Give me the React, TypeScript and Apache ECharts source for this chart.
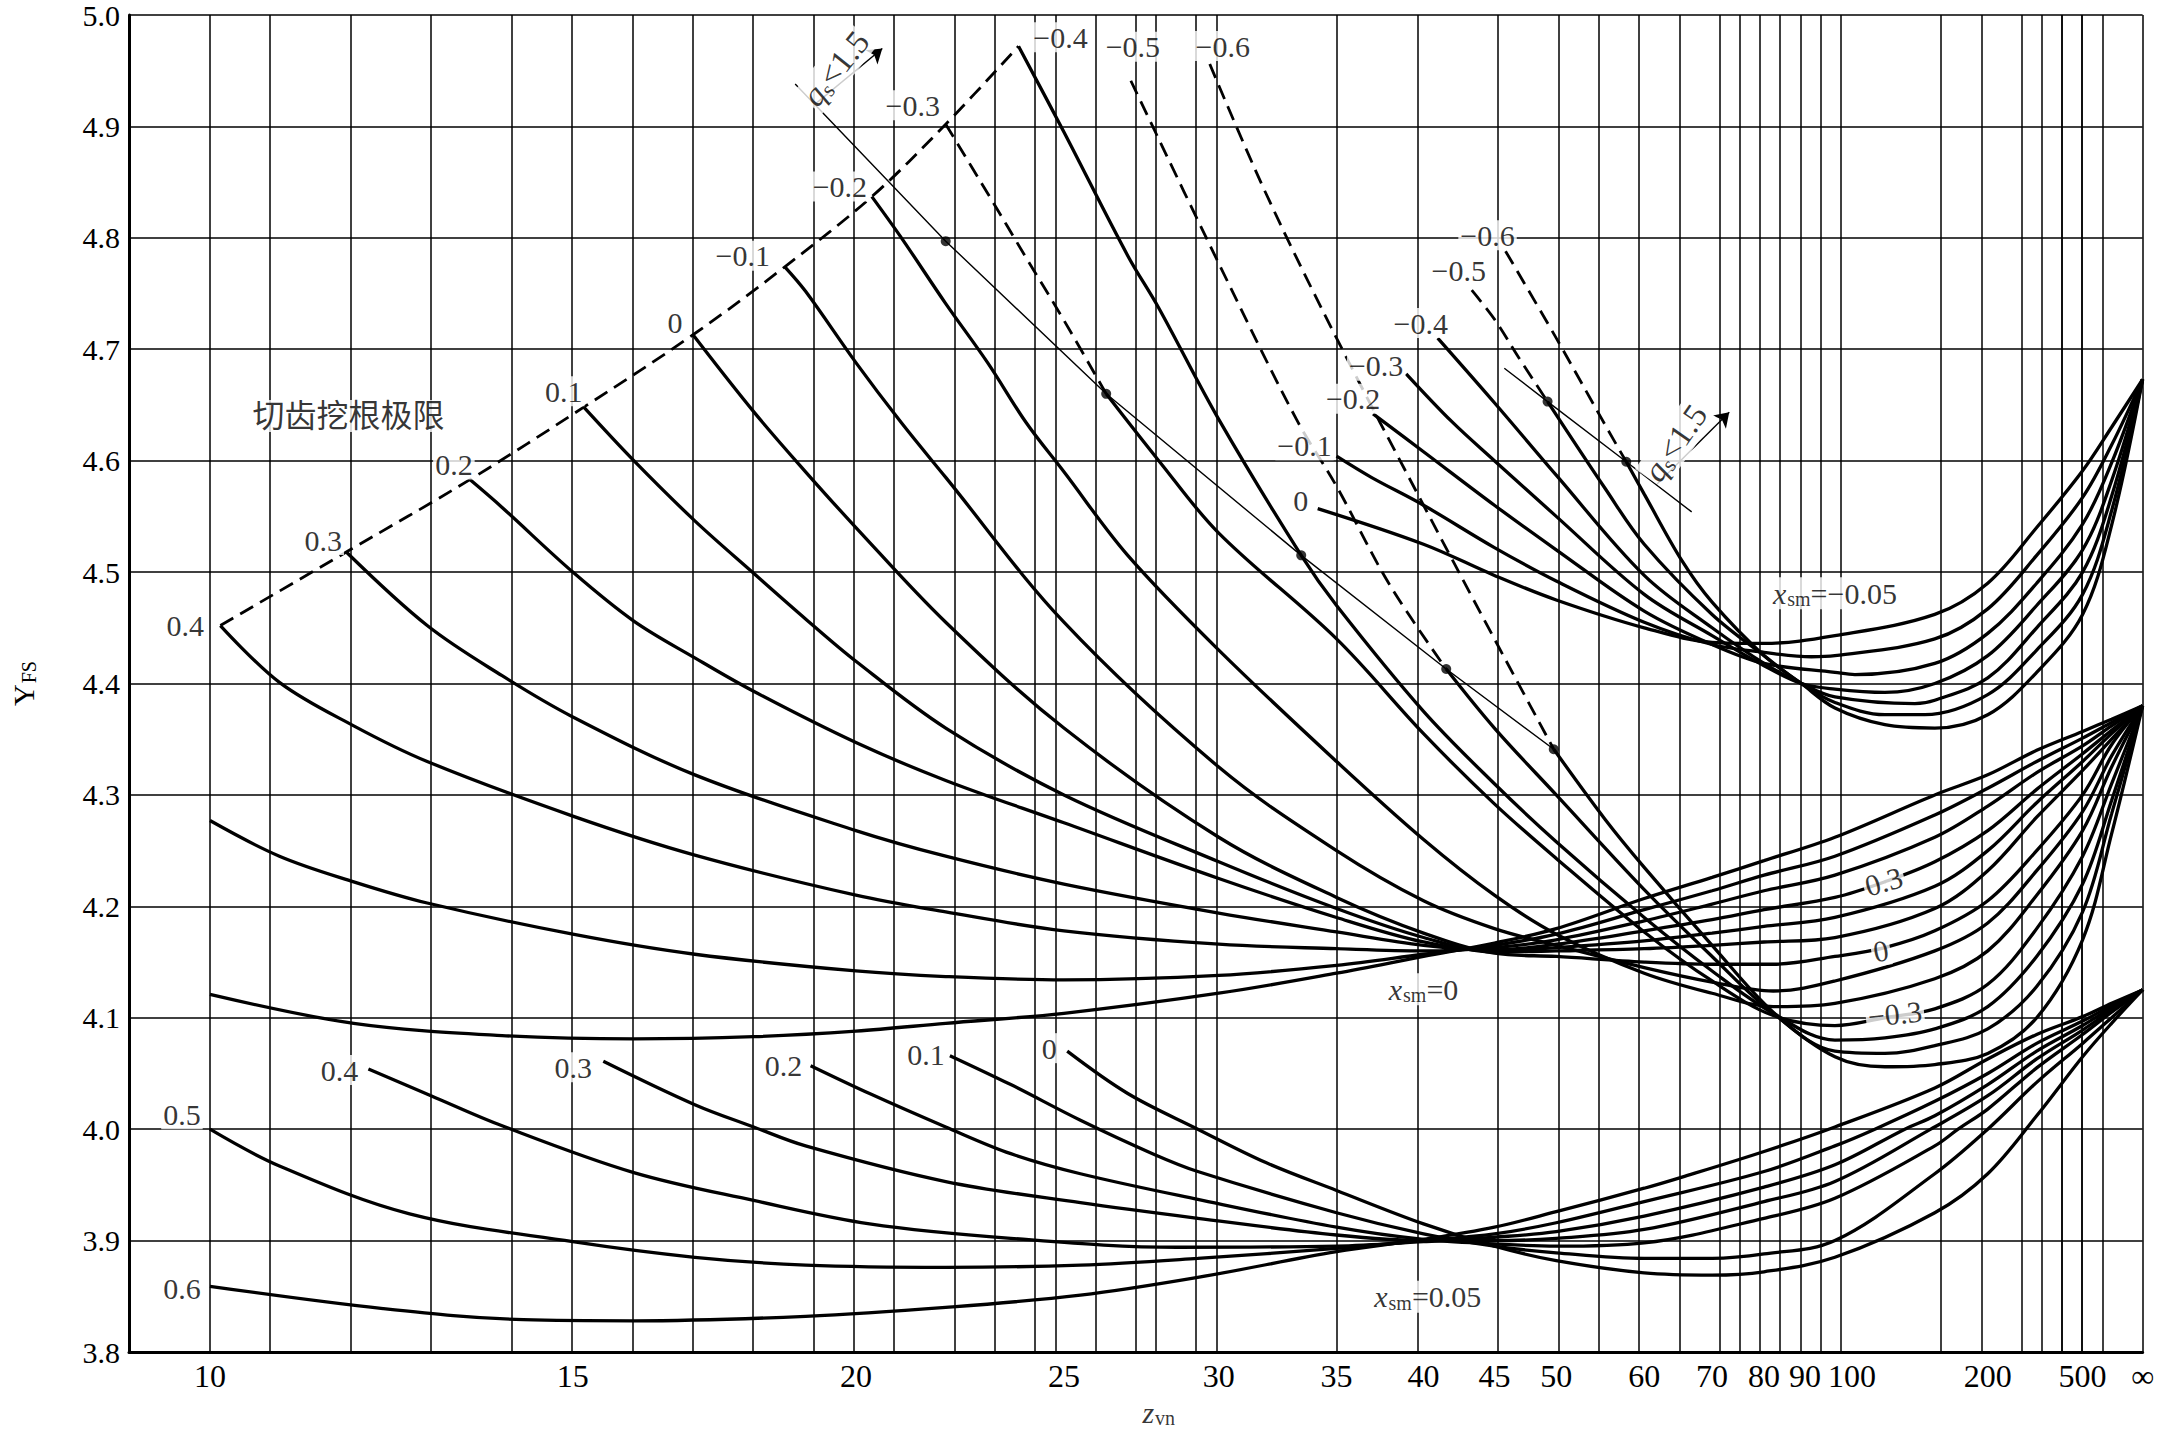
import React, { useEffect, useRef } from "react";
import * as echarts from "echarts";

const INF = Infinity;
const FONT = '"Liberation Serif", "Times New Roman", "Noto Sans CJK SC", serif';

// ---- horizontal scale of the chart (gridline values, relative position along the axis 0..1)
const scaleZ = [10, 11, 12, 13, 14, 15, 16, 17, 18, 19, 20, 21, 22, 23, 24, 25, 26, 27, 28, 29, 30, 35, 40, 45, 50, 55, 60, 65, 70, 75, 80, 85, 90, 95, 100, 150, 200, 250, 300, 350, 400, 450, 500, 1000, INF];
const scaleU = [0.0402, 0.0747, 0.1116, 0.1481, 0.1853, 0.2204, 0.2507, 0.281, 0.3102, 0.336, 0.361, 0.3836, 0.4056, 0.4264, 0.4456, 0.4643, 0.4807, 0.496, 0.5114, 0.5263, 0.5412, 0.5997, 0.6429, 0.6781, 0.7088, 0.7331, 0.7525, 0.7713, 0.7862, 0.7991, 0.812, 0.8234, 0.8323, 0.8403, 0.8472, 0.8968, 0.9231, 0.938, 0.9474, 0.9554, 0.9618, 0.9663, 0.9702, 0.9846, 1];
const tickZ = [10, 15, 20, 25, 30, 35, 40, 45, 50, 60, 70, 80, 90, 100, 200, 500, INF];
const tickText = ["10", "15", "20", "25", "30", "35", "40", "45", "50", "60", "70", "80", "90", "{r|100}", "200", "500", "∞"];

// ---- x_sm = 0 family
const mid_p06 = [[10, 4.121], [12, 4.095], [14, 4.084], [16, 4.081], [18, 4.083], [20, 4.088], [22, 4.095], [25, 4.104], [30, 4.122], [35, 4.14], [40, 4.155], [45, 4.167], [50, 4.18], [60, 4.207], [70, 4.226], [80, 4.241], [100, 4.262], [150, 4.3], [200, 4.318], [300, 4.34], [500, 4.357], [1000, 4.368], [INF, 4.38]];
const mid_p05 = [[10, 4.277], [11, 4.245], [12, 4.222], [13, 4.203], [15, 4.175], [17, 4.157], [20, 4.142], [22, 4.137], [25, 4.134], [30, 4.138], [35, 4.147], [40, 4.157], [45, 4.165], [50, 4.175], [60, 4.197], [70, 4.214], [80, 4.228], [100, 4.245], [150, 4.282], [200, 4.306], [300, 4.33], [500, 4.351], [1000, 4.365], [INF, 4.38]];
const mid_p04 = [[10.15, 4.452], [11, 4.401], [12, 4.362], [13, 4.33], [15, 4.281], [17, 4.246], [20, 4.21], [22, 4.195], [25, 4.178], [30, 4.166], [35, 4.162], [40, 4.16], [45, 4.163], [50, 4.17], [60, 4.187], [70, 4.202], [80, 4.214], [100, 4.228], [150, 4.262], [200, 4.29], [300, 4.32], [500, 4.344], [1000, 4.362], [INF, 4.38]];
const mid_p03 = [[11.9, 4.518], [13, 4.452], [14, 4.407], [15, 4.37], [17, 4.318], [20, 4.268], [22, 4.245], [25, 4.22], [30, 4.194], [35, 4.177], [40, 4.165], [45, 4.161], [50, 4.166], [60, 4.178], [70, 4.188], [80, 4.197], [100, 4.208], [125, 4.222], [150, 4.24], [200, 4.268], [300, 4.305], [500, 4.337], [1000, 4.358], [INF, 4.38]];
const mid_p02 = [[13.57, 4.583], [14, 4.558], [15, 4.5], [16, 4.456], [17, 4.423], [18, 4.393], [20, 4.347], [22, 4.313], [25, 4.275], [30, 4.225], [35, 4.19], [40, 4.168], [45, 4.16], [50, 4.163], [60, 4.169], [70, 4.176], [80, 4.182], [100, 4.19], [150, 4.218], [200, 4.25], [300, 4.293], [500, 4.33], [1000, 4.355], [INF, 4.38]];
const mid_p01 = [[15.18, 4.648], [16, 4.6], [17, 4.546], [18, 4.499], [19, 4.458], [20, 4.42], [22, 4.36], [25, 4.3], [30, 4.24], [35, 4.198], [40, 4.172], [45, 4.159], [50, 4.16], [60, 4.162], [70, 4.165], [80, 4.168], [100, 4.172], [150, 4.198], [200, 4.232], [300, 4.28], [500, 4.322], [1000, 4.35], [INF, 4.38]];
const mid_0 = [[16.97, 4.713], [18, 4.644], [19, 4.59], [20, 4.54], [22, 4.455], [25, 4.36], [30, 4.262], [35, 4.208], [40, 4.176], [45, 4.158], [50, 4.155], [60, 4.15], [70, 4.148], [82, 4.148], [100, 4.155], [125, 4.163], [150, 4.178], [200, 4.205], [300, 4.25], [500, 4.3], [1000, 4.345], [INF, 4.38]];
const mid_m01 = [[18.6, 4.774], [19, 4.752], [20, 4.688], [21, 4.634], [22, 4.585], [25, 4.455], [30, 4.325], [35, 4.25], [40, 4.205], [45, 4.18], [50, 4.165], [60, 4.145], [70, 4.132], [82, 4.124], [100, 4.133], [150, 4.16], [200, 4.185], [300, 4.232], [500, 4.285], [1000, 4.335], [INF, 4.38]];
const mid_m02 = [[20.35, 4.837], [21, 4.8], [22, 4.741], [23, 4.688], [24, 4.634], [25, 4.59], [27, 4.515], [30, 4.43], [35, 4.33], [40, 4.26], [45, 4.21], [50, 4.175], [60, 4.14], [70, 4.122], [82, 4.11], [100, 4.113], [150, 4.135], [200, 4.16], [300, 4.21], [500, 4.268], [1000, 4.325], [INF, 4.38]];
const mid_m03_dash = [[22, 4.902], [23, 4.84], [24, 4.782], [25, 4.726], [26.3, 4.66]];
const mid_m03 = [[26.3, 4.66], [28, 4.6], [30, 4.535], [35, 4.44], [40, 4.355], [45, 4.292], [50, 4.243], [60, 4.177], [70, 4.133], [82, 4.102], [100, 4.093], [125, 4.1], [150, 4.108], [200, 4.13], [300, 4.18], [500, 4.245], [1000, 4.31], [INF, 4.38]];
const mid_m04 = [[23.8, 4.972], [25, 4.895], [27, 4.784], [28, 4.737], [30, 4.637], [33.5, 4.515], [35, 4.47], [40, 4.375], [45, 4.31], [50, 4.258], [60, 4.19], [70, 4.142], [82, 4.104], [100, 4.08], [125, 4.082], [150, 4.09], [200, 4.11], [300, 4.155], [500, 4.22], [1000, 4.295], [INF, 4.38]];
const mid_m05_dash = [[27.1, 4.941], [30, 4.777], [33.3, 4.637], [35, 4.577], [38, 4.49], [41.6, 4.413]];
const mid_m05 = [[41.6, 4.413], [45, 4.36], [50, 4.3], [60, 4.215], [70, 4.155], [82, 4.104], [100, 4.07], [125, 4.068], [150, 4.075], [200, 4.09], [300, 4.128], [500, 4.195], [1000, 4.283], [INF, 4.38]];
const mid_m06_dash = [[29.7, 4.956], [32, 4.84], [35, 4.71], [40, 4.56], [45, 4.44], [49.8, 4.341]];
const mid_m06 = [[49.8, 4.341], [55, 4.278], [60, 4.235], [70, 4.165], [82, 4.105], [100, 4.065], [125, 4.056], [150, 4.058], [200, 4.068], [300, 4.1], [500, 4.17], [1000, 4.265], [INF, 4.38]];
const undercutLimit = [[10.15, 4.452], [11.9, 4.518], [13.57, 4.583], [15.18, 4.648], [16.97, 4.713], [18.6, 4.774], [20.35, 4.837], [22, 4.902], [23.8, 4.972]];
const qsLineMid = [[18.8, 4.938], [22, 4.797], [26.3, 4.66], [33.5, 4.515], [41.6, 4.413], [49.8, 4.341]];
const qsDotsMid = [[22, 4.797], [26.3, 4.66], [33.5, 4.515], [41.6, 4.413], [49.8, 4.341]];
const qsArrowMid = [[19.19, 4.92], [20.58, 4.97]];

// ---- x_sm = -0.05 family
const up_0 = [[34.2, 4.557], [40, 4.525], [45, 4.497], [50, 4.475], [60, 4.45], [70, 4.437], [80, 4.436], [100, 4.443], [150, 4.462], [200, 4.49], [300, 4.54], [500, 4.591], [1000, 4.63], [INF, 4.673]];
const up_m01 = [[35, 4.604], [37, 4.585], [40, 4.56], [45, 4.522], [50, 4.492], [60, 4.455], [70, 4.435], [80, 4.428], [92, 4.424], [100, 4.425], [150, 4.44], [200, 4.467], [300, 4.515], [500, 4.567], [1000, 4.614], [INF, 4.673]];
const up_m02 = [[37.1, 4.642], [40, 4.608], [45, 4.56], [50, 4.52], [60, 4.465], [70, 4.435], [80, 4.418], [100, 4.41], [110, 4.408], [150, 4.418], [200, 4.445], [300, 4.49], [500, 4.543], [1000, 4.598], [INF, 4.673]];
const up_m03 = [[39, 4.678], [42, 4.635], [45, 4.6], [50, 4.55], [60, 4.48], [70, 4.443], [80, 4.416], [89, 4.4], [100, 4.395], [125, 4.392], [150, 4.4], [200, 4.425], [300, 4.47], [500, 4.52], [1000, 4.582], [INF, 4.673]];
const up_m04 = [[41, 4.71], [45, 4.652], [50, 4.587], [60, 4.497], [70, 4.45], [80, 4.418], [89, 4.4], [100, 4.388], [140, 4.382], [150, 4.385], [200, 4.405], [300, 4.45], [500, 4.5], [1000, 4.568], [INF, 4.673]];
const up_m05_dash = [[43.4, 4.753], [45, 4.727], [47, 4.692], [49.3, 4.653]];
const up_m05 = [[49.3, 4.653], [55, 4.575], [60, 4.525], [70, 4.462], [80, 4.425], [89, 4.4], [100, 4.383], [125, 4.372], [145, 4.372], [200, 4.39], [300, 4.43], [500, 4.48], [1000, 4.555], [INF, 4.673]];
const up_m06_dash = [[45.9, 4.788], [50, 4.71], [55, 4.632], [57.7, 4.599]];
const up_m06 = [[57.7, 4.599], [60, 4.57], [65, 4.51], [70, 4.473], [80, 4.425], [89, 4.4], [100, 4.378], [125, 4.363], [150, 4.36], [200, 4.372], [300, 4.41], [500, 4.462], [1000, 4.542], [INF, 4.673]];
const qsLineUp = [[45.8, 4.683], [49.3, 4.653], [57.7, 4.599], [66.6, 4.554]];
const qsDotsUp = [[49.3, 4.653], [57.7, 4.599]];
const qsArrowUp = [[61.7, 4.579], [73.3, 4.6435]];

// ---- x_sm = 0.05 family
const low_p06 = [[10, 3.859], [12.4, 3.839], [14.3, 3.829], [16, 3.828], [19, 3.832], [22, 3.84], [25.5, 3.851], [29.3, 3.867], [35, 3.89], [40, 3.901], [45, 3.912], [50, 3.926], [60, 3.947], [65, 3.957], [80, 3.98], [100, 4.002], [150, 4.037], [200, 4.063], [300, 4.085], [500, 4.101], [1000, 4.113], [INF, 4.125]];
const low_p05 = [[10, 4.0], [11, 3.967], [12.76, 3.924], [15, 3.899], [17, 3.885], [19, 3.878], [22, 3.876], [25.5, 3.878], [29.3, 3.884], [35, 3.893], [40, 3.9], [45, 3.906], [50, 3.916], [60, 3.935], [80, 3.962], [100, 3.985], [120, 4.0], [150, 4.025], [200, 4.05], [300, 4.077], [500, 4.097], [1000, 4.111], [INF, 4.125]];
const low_p04 = [[12.2, 4.054], [13.05, 4.03], [14, 4.003], [16, 3.961], [18, 3.936], [20.3, 3.915], [23.6, 3.902], [28.6, 3.894], [35, 3.895], [40, 3.899], [45, 3.903], [50, 3.908], [60, 3.922], [80, 3.948], [100, 3.968], [135, 4.0], [150, 4.012], [200, 4.04], [300, 4.07], [500, 4.093], [1000, 4.109], [INF, 4.125]];
const low_p03 = [[15.5, 4.061], [17, 4.022], [18, 4.002], [19, 3.985], [22, 3.953], [25.5, 3.934], [29.3, 3.92], [35, 3.905], [40, 3.9], [45, 3.9], [50, 3.902], [60, 3.91], [80, 3.935], [100, 3.953], [148, 4.0], [200, 4.03], [300, 4.063], [500, 4.089], [1000, 4.107], [INF, 4.125]];
const low_p02 = [[19.1, 4.057], [20.3, 4.032], [22, 4.002], [23.6, 3.978], [25.5, 3.96], [29.3, 3.937], [35, 3.912], [40, 3.901], [45, 3.897], [50, 3.895], [60, 3.898], [80, 3.92], [100, 3.938], [150, 3.985], [172, 4.0], [200, 4.018], [300, 4.055], [500, 4.085], [1000, 4.105], [INF, 4.125]];
const low_p01 = [[22.1, 4.066], [23.6, 4.04], [25.5, 4.008], [27.8, 3.978], [29.3, 3.962], [35, 3.925], [40, 3.906], [45, 3.895], [50, 3.889], [60, 3.884], [70, 3.884], [80, 3.888], [100, 3.9], [150, 3.96], [200, 4.0], [300, 4.042], [500, 4.077], [1000, 4.1], [INF, 4.125]];
const low_0 = [[25.1, 4.07], [27, 4.032], [29.3, 4.0], [32, 3.97], [35, 3.945], [40, 3.915], [45, 3.895], [50, 3.882], [60, 3.871], [70, 3.869], [80, 3.872], [100, 3.885], [150, 3.925], [200, 3.96], [300, 4.012], [500, 4.065], [1000, 4.095], [INF, 4.125]];

// ---- texts and their anchors [z, Y] (curve starts or text centres)
const labelTexts = [
  "0.4", "0.3", "0.2", "0.1", "0", "−0.1", "−0.2", "−0.3", "−0.4", "−0.5", "−0.6",
  "0", "−0.1", "−0.2", "−0.3", "−0.4", "−0.5", "−0.6",
  "0.6", "0.5", "0.4", "0.3", "0.2", "0.1", "0",
  "切齿挖根极限", "{i|x}{s|sm}{n|=−0.05}", "{i|x}{s|sm}{n|=0}", "{i|x}{s|sm}{n|=0.05}",
  "0.3", "0", "−0.3",
  "{qi|q}{qs|s}{qn|<1.5}", "{qi|q}{qs|s}{qn|<1.5}", "{i|z}{s|vn}",
];
const labelAnchors = [
  [10.15, 4.452], [11.9, 4.518], [13.57, 4.583], [15.18, 4.648], [16.97, 4.713], [18.6, 4.774], [20.35, 4.837], [22, 4.902], [23.8, 4.972], [27.1, 4.941], [29.7, 4.956],
  [34.2, 4.557], [35, 4.604], [37.1, 4.642], [39, 4.678], [41, 4.71], [43.4, 4.753], [45.9, 4.788],
  [10, 3.859], [10, 4.0], [12.2, 4.054], [15.5, 4.061], [19.1, 4.057], [22.1, 4.066], [25.1, 4.07],
  [11.93, 4.64], [100, 4.481], [40, 4.1255], [40.3, 3.8495],
  [124.4, 4.2224], [123, 4.16], [130, 4.1035],
  [19.6, 4.952], [64.1, 4.616], [28, 3.8],
];
// styling of the texts: pixel offsets from the anchor and rotation
const labelOffsets = [
  [-35, 0], [-23, -12], [-16, -15], [-20, -16], [-18, -12], [-42, -11], [-32, -10], [-33, -19], [42, -9], [2, -34], [13, -18],
  [-17, -8], [-32, -11], [-20, -15], [-30, -8], [-17, -15], [-13, -20], [-18, -16],
  [-28, 2], [-28, -15], [-29, 1], [-30, 6], [-27, 0], [-24, -1], [-18, -3],
  [0, 0], [0, 0], [0, 0], [0, 0],
  [0, 0], [0, 0], [0, 0],
  [0, 0], [0, 0], [0, 60],
];
const labelRotate = [
  0, 0, 0, 0, 0, 0, 0, 0, 0, 0, 0,
  0, 0, 0, 0, 0, 0, 0,
  0, 0, 0, 0, 0, 0, 0,
  0, 0, 0, 0,
  16, 10, 6,
  51, 55, 0,
];

function zu(z: number): number {
  if (z === INF) return 1;
  if (z <= scaleZ[0]) {
    const s = (scaleU[1] - scaleU[0]) / (scaleZ[1] - scaleZ[0]);
    return scaleU[0] + (z - scaleZ[0]) * s;
  }
  for (let i = 0; i < scaleZ.length - 1; i++) {
    const a = scaleZ[i];
    const b = scaleZ[i + 1];
    if (z >= a && z <= b) {
      if (b === INF) return scaleU[i] + (1 - a / z) * (1 - scaleU[i]);
      return scaleU[i] + ((z - a) / (b - a)) * (scaleU[i + 1] - scaleU[i]);
    }
  }
  return 1;
}

const toData = (pts: number[][]) => pts.map(([z, y]) => [zu(z), y]);

function curveSeries(pts: number[][], dashed: boolean) {
  return {
    type: "line",
    data: toData(pts),
    smooth: 0.35,
    showSymbol: false,
    symbol: "none",
    silent: true,
    z: 3,
    lineStyle: dashed
      ? { color: "#000", width: 2.8, type: [15, 8] }
      : { color: "#000", width: 3.3, type: "solid" },
  };
}
function thinLine(pts: number[][], arrow: number[][]) {
  return {
    type: "line",
    data: toData(pts),
    smooth: false,
    showSymbol: false,
    symbol: "none",
    silent: true,
    z: 3,
    lineStyle: { color: "#000", width: 1.4 },
    markLine: {
      silent: true,
      symbol: ["none", "arrow"],
      symbolSize: 14,
      label: { show: false },
      lineStyle: { color: "#000", width: 1.4, type: "solid" },
      data: [[{ coord: [zu(arrow[0][0]), arrow[0][1]] }, { coord: [zu(arrow[1][0]), arrow[1][1]] }]],
    },
  };
}

const rich = {
  i: { fontFamily: FONT, fontSize: 30, fontStyle: "italic", color: "#000" },
  s: { fontFamily: FONT, fontSize: 20, color: "#000", padding: [12, 0, 0, 1] },
  n: { fontFamily: FONT, fontSize: 30, color: "#000" },
  qi: { fontFamily: FONT, fontSize: 33, fontStyle: "italic", color: "#000" },
  qs: { fontFamily: FONT, fontSize: 22, color: "#000", padding: [14, 0, 0, 0] },
  qn: { fontFamily: FONT, fontSize: 33, color: "#000" },
};

export default function App() {
  const ref = useRef<HTMLDivElement>(null);
  useEffect(() => {
    if (!ref.current) return;
    const chart = echarts.init(ref.current, undefined, { renderer: "svg" });

    const solids = [
      mid_p06, mid_p05, mid_p04, mid_p03, mid_p02, mid_p01, mid_0, mid_m01, mid_m02, mid_m03, mid_m04, mid_m05, mid_m06,
      up_0, up_m01, up_m02, up_m03, up_m04, up_m05, up_m06,
      low_p06, low_p05, low_p04, low_p03, low_p02, low_p01, low_0,
    ];
    const dashes = [undercutLimit, mid_m03_dash, mid_m05_dash, mid_m06_dash, up_m05_dash, up_m06_dash];

    const gridSeries = {
      type: "line",
      data: [],
      silent: true,
      z: 1,
      markLine: {
        silent: true,
        symbol: ["none", "none"],
        label: { show: false },
        lineStyle: { color: "#000", width: 1.5, type: "solid" },
        data: scaleZ.map((z) => ({ xAxis: zu(z) })),
      },
    };

    const labelSeries = {
      type: "scatter",
      symbolSize: 1,
      silent: true,
      clip: false,
      z: 20,
      itemStyle: { color: "rgba(0,0,0,0)" },
      data: labelTexts.map((t, k) => ({
        value: [zu(labelAnchors[k][0]), labelAnchors[k][1]],
        label: {
          show: true,
          position: "inside",
          formatter: t,
          offset: labelOffsets[k],
          rotate: labelRotate[k],
          fontFamily: FONT,
          fontSize: t === "切齿挖根极限" ? 32 : 30,
          color: "#000",
          backgroundColor: k === labelTexts.length - 1 ? "transparent" : "#fff",
          padding: [0, 2],
          rich,
        },
      })),
    };

    const dotSeries = {
      type: "scatter",
      symbol: "circle",
      symbolSize: 10,
      silent: true,
      z: 6,
      itemStyle: { color: "#000" },
      data: toData([...qsDotsMid, ...qsDotsUp]),
    };

    chart.setOption({
      animation: false,
      backgroundColor: "#fff",
      grid: { left: 128, right: 13, top: 11, bottom: 79, containLabel: false },
      xAxis: {
        type: "value",
        min: 0,
        max: 1,
        axisLine: { show: true, onZero: false, lineStyle: { color: "#000", width: 3 } },
        axisTick: { show: false },
        splitLine: { show: false },
        axisLabel: {
          customValues: tickZ.map(zu),
          color: "#000",
          fontFamily: FONT,
          fontSize: 32,
          margin: 8,
          rich: { r: { fontFamily: FONT, fontSize: 32, color: "#000", padding: [0, 0, 0, 34] } },
          formatter: (v: number) => {
            let best = 0;
            let bd = 1e9;
            tickZ.forEach((z, i) => {
              const d = Math.abs(zu(z) - v);
              if (d < bd) {
                bd = d;
                best = i;
              }
            });
            return tickText[best];
          },
        },
      },
      yAxis: {
        type: "value",
        min: 3.8,
        max: 5.0,
        interval: 0.1,
        name: "{y|Y}{s|FS}",
        nameLocation: "middle",
        nameRotate: 90,
        nameGap: 90,
        nameTextStyle: {
          rich: {
            y: { fontFamily: FONT, fontSize: 30, color: "#000" },
            s: { fontFamily: FONT, fontSize: 20, color: "#000", padding: [12, 0, 0, 1] },
          },
        },
        axisLine: { show: true, lineStyle: { color: "#000", width: 3 } },
        axisTick: { show: false },
        splitLine: { show: true, lineStyle: { color: "#000", width: 1.5 } },
        axisLabel: {
          color: "#000",
          fontFamily: FONT,
          fontSize: 30,
          lineHeight: 22,
          margin: 9,
          formatter: (v: number) => v.toFixed(1),
        },
      },
      series: [
        gridSeries,
        ...solids.map((p) => curveSeries(p, false)),
        ...dashes.map((p) => curveSeries(p, true)),
        thinLine(qsLineMid, qsArrowMid),
        thinLine(qsLineUp, qsArrowUp),
        dotSeries,
        labelSeries,
      ],
    });
    return () => chart.dispose();
  }, []);
  return (
    <div
      ref={ref}
      style={{ position: "absolute", left: 0, top: 0, width: 2157, height: 1431, background: "#fff" }}
    />
  );
}
